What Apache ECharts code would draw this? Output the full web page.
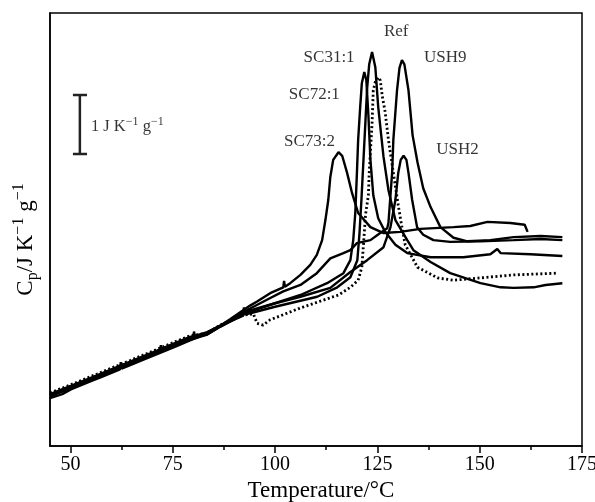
<!DOCTYPE html>
<html>
<head>
<meta charset="utf-8">
<script src="https://cdn.jsdelivr.net/npm/echarts@6/dist/echarts.min.js"></script>
<style>
  html, body { margin: 0; padding: 0; background: #fff; }
  #chart { width: 595px; height: 502px; }
</style>
</head>
<body>
<div id="chart"></div>
<script>
// Cp curves: [temperature in °C, Cp in J K^-1 g^-1 (offset is arbitrary)]
const sc73_2 = [[45.0,0.81],[48.0,0.88],[50.1,0.96],[55.0,1.10],[57.2,1.16],[62.1,1.30],[62.3,1.42],[62.5,1.31],[64.6,1.37],[68.0,1.47],[71.9,1.58],[75.5,1.68],[79.2,1.79],[82.4,1.88],[86.6,2.04],[89.0,2.15],[92.2,2.30],[93.9,2.38],[95.6,2.45],[98.8,2.59],[102.0,2.69],[102.2,2.80],[102.4,2.70],[103.7,2.76],[106.2,2.90],[108.6,3.07],[110.2,3.24],[111.5,3.49],[112.3,3.83],[113.0,4.17],[113.5,4.56],[114.2,4.85],[115.5,4.98],[116.4,4.92],[117.6,4.63],[118.8,4.29],[120.3,3.95],[123.3,3.71],[126.5,3.61],[130.6,3.63],[135.5,3.68],[143.6,3.71],[147.7,3.73],[151.9,3.80],[157.5,3.78],[161.0,3.75],[161.7,3.63]];

const ush9 = [[45.0,0.84],[50.1,0.98],[53.0,1.06],[57.2,1.18],[60.0,1.26],[64.6,1.39],[68.0,1.49],[71.9,1.60],[72.1,1.71],[72.3,1.61],[79.2,1.80],[83.4,1.89],[86.6,2.03],[92.2,2.27],[93.9,2.33],[98.0,2.48],[102.0,2.62],[106.2,2.73],[110.2,2.93],[113.5,3.18],[116.7,3.27],[118.4,3.32],[120.0,3.44],[123.3,3.49],[125.7,3.61],[127.4,3.69],[127.7,3.78],[128.6,4.63],[128.9,5.19],[129.8,6.03],[130.4,6.41],[131.0,6.54],[131.6,6.47],[132.6,6.03],[133.6,5.27],[134.8,4.81],[136.2,4.37],[138.0,4.05],[140.4,3.71],[143.6,3.53],[147.0,3.47],[152.6,3.49],[158.3,3.54],[164.9,3.56],[170.2,3.54]];

const ush2 = [[45.0,0.87],[50.1,1.01],[55.0,1.14],[57.2,1.21],[64.6,1.42],[70.0,1.57],[71.9,1.63],[79.2,1.84],[83.4,1.93],[86.6,2.04],[92.2,2.24],[93.9,2.30],[100.0,2.42],[106.2,2.53],[113.5,2.68],[118.4,2.95],[122.5,3.15],[126.5,3.37],[128.2,3.71],[129.4,4.17],[130.1,4.63],[130.7,4.85],[131.4,4.92],[132.1,4.85],[132.6,4.63],[133.5,4.17],[134.7,3.71],[136.2,3.58],[138.7,3.49],[142.8,3.46],[150.2,3.47],[158.3,3.49],[164.9,3.51],[170.2,3.49]];

const sc72_1 = [[45.0,0.85],[50.1,0.99],[54.0,1.09],[57.2,1.19],[62.0,1.32],[64.6,1.40],[71.9,1.61],[79.2,1.82],[80.0,1.84],[80.2,1.94],[80.4,1.85],[83.4,1.89],[86.6,2.02],[92.2,2.23],[93.9,2.28],[100.0,2.42],[106.2,2.56],[112.7,2.76],[116.7,2.93],[118.4,3.15],[119.1,3.49],[119.6,3.95],[120.0,4.63],[120.3,5.19],[120.8,5.75],[121.2,6.15],[121.8,6.34],[122.3,6.20],[122.8,5.61],[123.3,4.85],[124.0,4.25],[125.2,3.86],[126.9,3.63],[129.4,3.41],[132.3,3.27],[138.0,3.20],[146.0,3.20],[152.6,3.25],[154.3,3.34],[155.1,3.27],[162.4,3.25],[170.2,3.22]];

const sc31_1 = [[45.0,0.88],[50.1,1.02],[57.2,1.22],[64.6,1.43],[71.9,1.64],[79.2,1.85],[83.4,1.90],[86.6,2.03],[90.0,2.14],[92.2,2.21],[92.4,2.35],[92.6,2.23],[93.9,2.25],[100.0,2.36],[110.3,2.53],[115.2,2.69],[118.4,2.86],[120.1,3.15],[120.6,3.58],[121.1,4.17],[121.6,4.85],[122.1,5.53],[122.5,6.07],[123.0,6.47],[123.7,6.68],[124.5,6.42],[125.2,5.75],[126.5,4.90],[127.7,4.34],[129.4,3.83],[132.3,3.49],[133.8,3.32],[138.0,3.12],[142.8,2.93],[150.2,2.76],[155.1,2.69],[158.3,2.68],[163.2,2.69],[166.1,2.73],[170.2,2.76]];

const ref = [[45.0,0.90],[50.1,1.04],[57.2,1.24],[64.6,1.45],[71.9,1.66],[79.2,1.87],[83.4,1.91],[86.6,2.05],[92.2,2.22],[94.7,2.24],[95.6,2.08],[97.1,2.05],[98.8,2.14],[106.2,2.34],[115.5,2.56],[118.4,2.69],[120.3,2.81],[121.2,3.03],[121.6,3.41],[122.1,3.92],[122.8,4.25],[123.0,4.63],[123.7,5.47],[124.0,6.03],[124.5,6.17],[125.2,6.25],[125.7,6.20],[126.2,5.93],[126.9,5.66],[127.7,5.19],[128.9,4.63],[130.1,4.08],[130.9,3.75],[131.8,3.41],[134.8,3.03],[139.7,2.85],[143.6,2.81],[150.2,2.85],[158.3,2.90],[169.0,2.93]];

const majorTicks = [50, 75, 100, 125, 150, 175];
const minorTicks = [62.5, 87.5, 112.5, 137.5, 162.5];

// curve labels, anchored at data coordinates
const curveLabels = [
  { name: 'Ref', value: [129.6, 7.03] },
  { name: 'SC31:1', value: [113.2, 6.58] },
  { name: 'SC72:1', value: [109.6, 5.95] },
  { name: 'SC73:2', value: [108.4, 5.16] },
  { name: 'USH9', value: [141.6, 6.59] },
  { name: 'USH2', value: [144.6, 5.03] }
];

// 1 J K^-1 g^-1 scale bar (top cap, stem, bottom cap)
const scaleBar = [[50.6,5.95],[54.05,5.95],[52.3,5.95],[52.3,4.95],[50.6,4.95],[54.05,4.95]];
const scaleLabelAt = [55.0, 5.41];

const FONT = 'Liberation Serif';

const chart = echarts.init(document.getElementById('chart'));

const curve = (name, data, dotted) => ({
  name: name,
  type: 'line',
  data: data,
  symbol: 'none',
  silent: true,
  lineStyle: {
    color: '#000',
    width: dotted ? 2.8 : 2.4,
    type: dotted ? [2, 2.5] : 'solid'
  }
});

const option = {
  animation: false,
  grid: {
    left: 50, right: 13, top: 13, bottom: 56,
    outerBoundsMode: 'none',
    show: true, borderColor: '#000', borderWidth: 1.5
  },
  xAxis: [
    {
      type: 'value', min: 45, max: 175,
      name: 'Temperature/°C',
      nameLocation: 'middle',
      nameGap: 30,
      nameTextStyle: { fontFamily: FONT, fontSize: 23, color: '#000', padding: [0, 0, 0, 10] },
      axisLine: { lineStyle: { color: '#000', width: 1.5 } },
      axisTick: { length: 7, customValues: majorTicks, lineStyle: { color: '#000', width: 1.5 } },
      axisLabel: { customValues: majorTicks, fontFamily: FONT, fontSize: 20, color: '#000', margin: 9 },
      splitLine: { show: false }
    },
    {
      type: 'value', min: 45, max: 175, position: 'bottom',
      axisLine: { show: false },
      axisTick: { length: 4, customValues: minorTicks, lineStyle: { color: '#000', width: 1.5 } },
      axisLabel: { show: false },
      splitLine: { show: false }
    }
  ],
  yAxis: {
    type: 'value', min: 0, max: 7.34,
    name: '{m|C}{sub|p}{m|/J K}{sup|−1}{m| g}{sup|−1}',
    nameLocation: 'middle',
    nameRotate: 90,
    nameGap: 9,
    nameTextStyle: {
      color: '#000',
      padding: [0, 20, 0, 0],
      rich: {
        m: { fontFamily: FONT, fontSize: 23, color: '#000', lineHeight: 30 },
        sub: { fontFamily: FONT, fontSize: 16, color: '#000', verticalAlign: 'bottom', lineHeight: 30 },
        sup: { fontFamily: FONT, fontSize: 16, color: '#000', verticalAlign: 'top', lineHeight: 30 }
      }
    },
    axisLine: { show: true, lineStyle: { color: '#000', width: 1.5 } },
    axisTick: { show: false },
    axisLabel: { show: false },
    splitLine: { show: false }
  },
  series: [
    curve('SC73:2', sc73_2),
    curve('USH9', ush9),
    curve('USH2', ush2),
    curve('SC72:1', sc72_1),
    curve('SC31:1', sc31_1),
    curve('Ref', ref, true),
    {
      type: 'line',
      data: scaleBar,
      symbol: 'none',
      silent: true,
      lineStyle: { color: '#222', width: 2.5 }
    },
    {
      type: 'scatter',
      data: curveLabels,
      symbolSize: 0,
      silent: true,
      label: {
        show: true, position: 'inside', formatter: '{b}',
        fontFamily: FONT, fontSize: 17, color: '#000'
      }
    },
    {
      type: 'scatter',
      data: [{ name: 'scale', value: scaleLabelAt }],
      symbolSize: 0,
      silent: true,
      label: {
        show: true, position: 'right', distance: 0,
        formatter: '{m|1 J K}{s|−1}{m| g}{s|−1}',
        rich: {
          m: { fontFamily: FONT, fontSize: 16.5, color: '#000', lineHeight: 22 },
          s: { fontFamily: FONT, fontSize: 12, color: '#000', verticalAlign: 'top', lineHeight: 22 }
        }
      }
    }
  ]
};

chart.setOption(option);
</script>
</body>
</html>
